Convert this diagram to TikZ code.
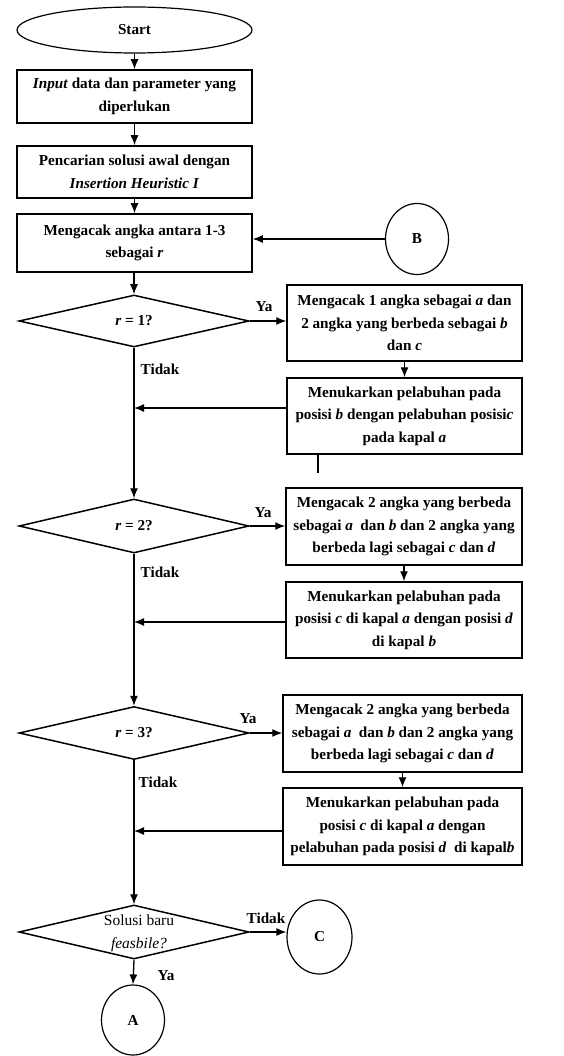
\documentclass[tikz,border=0pt]{standalone}
\usepackage{fontspec}
\setmainfont{Liberation Serif}
\usetikzlibrary{shapes.geometric,arrows.meta,calc}
\begin{document}
\begin{tikzpicture}[x=1pt,y=-1pt,
  font=\fontsize{15.2}{22.5}\selectfont\bfseries,
  box/.style={draw,line width=1.5pt,rectangle,align=center,inner sep=1pt},
  dec/.style={draw,line width=1.5pt,diamond,inner sep=0pt},
  term/.style={draw,line width=1.2pt,ellipse,inner sep=0pt},
  arr/.style={line width=1.3pt,-{Latex[length=10pt,width=8pt]}},
  lbl/.style={inner sep=0pt,align=center}]
\useasboundingbox (0,0) rectangle (563,1056);

% left column
\node[term,minimum width=235pt,minimum height=46pt] (start) at (134.5,30) {Start};
\node[box,minimum width=235pt,minimum height=53pt] (in) at (134.5,96.5)
  {\textit{Input} data dan parameter yang\\ diperlukan};
\node[box,minimum width=235pt,minimum height=52pt] (init) at (134.5,172)
  {Pencarian solusi awal dengan\\ \textit{Insertion Heuristic I}};
\node[box,minimum width=235pt,minimum height=58pt] (rand) at (134.5,243)
  {Mengacak angka antara 1-3\\ sebagai \textit{r}};
\node[term,minimum width=63pt,minimum height=71pt] (B) at (417,239) {B};

\node[dec,minimum width=230pt,minimum height=52pt] (d1) at (134,321) {};
\node[dec,minimum width=230pt,minimum height=54pt] (d2) at (134,526) {};
\node[dec,minimum width=230pt,minimum height=53pt] (d3) at (134,733) {};
\node[dec,minimum width=230pt,minimum height=54pt] (d4) at (134,932) {};
\node[lbl] (d1t) at (d1) {\textit{r} = 1?};
\node[lbl] (d2t) at (d2) {\textit{r} = 2?};
\node[lbl] (d3t) at (d3) {\textit{r} = 3?};
\node[lbl,font=\fontsize{15.5}{23}\selectfont] (d4t) at (139,933) {Solusi baru\\ \textit{feasbile?}};

% right column
\node[box,minimum width=235pt,minimum height=76pt] (r1a) at (404.5,323)
  {Mengacak 1 angka sebagai \textit{a} dan\\ 2 angka yang berbeda sebagai \textit{b}\\ dan \textit{c}};
\node[box,minimum width=235pt,minimum height=76pt] (r1b) at (404.5,416)
  {Menukarkan pelabuhan pada\\ posisi \textit{b} dengan pelabuhan posisi\textit{c}\\ pada kapal \textit{a}};
\node[box,minimum width=236pt,minimum height=77pt] (r2a) at (404,526.5)
  {Mengacak 2 angka yang berbeda\\ sebagai \textit{a}~ dan \textit{b} dan 2 angka yang\\ berbeda lagi sebagai \textit{c} dan \textit{d}};
\node[box,minimum width=236pt,minimum height=76pt] (r2b) at (404,620)
  {Menukarkan pelabuhan pada\\ posisi \textit{c} di kapal \textit{a} dengan posisi \textit{d}\\ di kapal \textit{b}};
\node[box,minimum width=239pt,minimum height=77pt] (r3a) at (402.5,733.5)
  {Mengacak 2 angka yang berbeda\\ sebagai \textit{a}~ dan \textit{b} dan 2 angka yang\\ berbeda lagi sebagai \textit{c} dan \textit{d}};
\node[box,minimum width=239pt,minimum height=77pt] (r3b) at (402.5,826.5)
  {Menukarkan pelabuhan pada\\ posisi \textit{c} di kapal \textit{a} dengan\\ pelabuhan pada posisi \textit{d}~ di kapal\textit{b}};

\node[term,minimum width=65pt,minimum height=74pt] (C) at (319.5,937) {C};
\node[term,minimum width=63pt,minimum height=70pt] (A) at (133,1020) {A};

% labels
\node[lbl] (ya1) at (264,307) {Ya};
\node[lbl] (ya2) at (263,513) {Ya};
\node[lbl] (ya3) at (248,719) {Ya};
\node[lbl] (ti1) at (160,369) {Tidak};
\node[lbl] (ti2) at (160,572) {Tidak};
\node[lbl] (ti3) at (158,782) {Tidak};
\node[lbl] (ti4) at (266,918) {Tidak};
\node[lbl] (ya4) at (166,976) {Ya};

% coordinates on main line
\coordinate (m1) at (134,408);
\coordinate (m2) at (134,622);
\coordinate (m3) at (134,831);
\coordinate (stub) at (318,473);

% connectors
\draw[arr] (start) -- (in);
\draw[arr] (in) -- (init);
\draw[arr] (init) -- (rand);
\draw[arr] (B.west) -- (B.west -| rand.east);
\draw[arr] (rand.south -| d1.north) -- (d1.north);
\draw[arr] (d1.south) -- (d2.north);
\draw[arr] (d2.south) -- (d3.north);
\draw[arr] (d3.south) -- (d4.north);
\draw[arr] (d4.south) -- (A.north);

\draw[arr] (d1.east) -- (d1.east -| r1a.west);
\draw[arr] (d2.east) -- (d2.east -| r2a.west);
\draw[arr] (d3.east) -- (d3.east -| r3a.west);
\draw[arr] (d4.east) -- (d4.east -| C.west);

\draw[arr] (r1a) -- (r1b);
\draw[arr] (r2a) -- (r2b);
\draw[arr] (r3a) -- (r3b);

\draw[arr] (m1 -| r1b.west) -- (m1);
\draw[arr] (m2 -| r2b.west) -- (m2);
\draw[arr] (m3 -| r3b.west) -- (m3);

\draw[line width=2.5pt] (stub |- r1b.south) -- (stub);
\end{tikzpicture}
\end{document}
